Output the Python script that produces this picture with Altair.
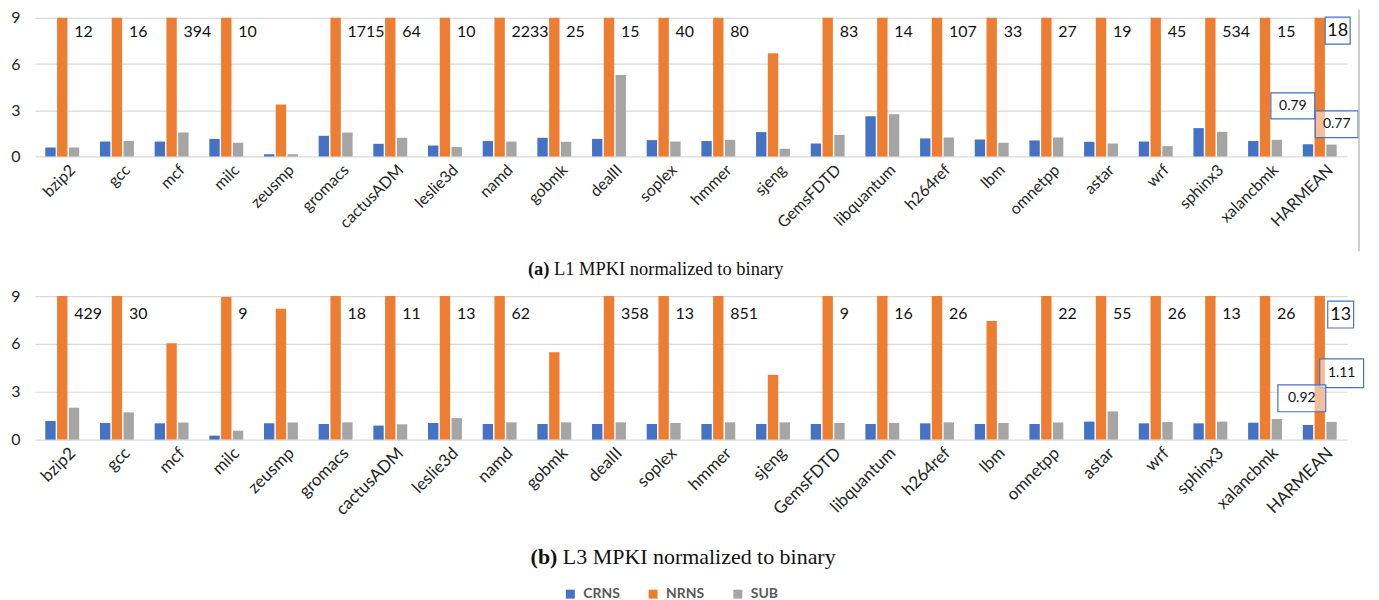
import altair as alt
import pandas as pd

benchmarks = ["bzip2", "gcc", "mcf", "milc", "zeusmp", "gromacs", "cactusADM", "leslie3d",
              "namd", "gobmk", "dealII", "soplex", "hmmer", "sjeng", "GemsFDTD", "libquantum",
              "h264ref", "lbm", "omnetpp", "astar", "wrf", "sphinx3", "xalancbmk", "HARMEAN"]
series = ["CRNS", "NRNS", "SUB"]
colors = ["#4472C4", "#ED7D31", "#A5A5A5"]

# (a) L1 MPKI normalized to binary
l1_crns = [0.58, 0.97, 0.97, 1.14, 0.15, 1.34, 0.82, 0.71, 1.00, 1.21, 1.14, 1.06,
           1.00, 1.58, 0.84, 2.61, 1.17, 1.10, 1.04, 0.95, 0.97, 1.84, 1.00, 0.79]
l1_nrns = [12, 16, 394, 10, 3.37, 1715, 64, 10, 2233, 25, 15, 40,
           80, 6.70, 83, 14, 107, 33, 27, 19, 45, 534, 15, 18]
l1_sub = [0.58, 1.00, 1.55, 0.89, 0.15, 1.55, 1.21, 0.62, 0.97, 0.95, 5.29, 0.97,
          1.08, 0.50, 1.40, 2.74, 1.23, 0.89, 1.23, 0.84, 0.67, 1.60, 1.08, 0.77]

# (b) L3 MPKI normalized to binary
l3_crns = [1.17, 1.04, 1.02, 0.25, 1.02, 0.98, 0.88, 1.04, 0.98, 0.98, 0.98, 0.98,
           0.98, 0.98, 0.98, 0.98, 1.02, 0.98, 0.98, 1.13, 1.02, 1.02, 1.06, 0.92]
l3_nrns = [429, 30, 6.04, 8.94, 8.20, 18, 11, 13, 62, 5.48, 358, 13,
           851, 4.06, 9, 16, 26, 7.44, 22, 55, 26, 13, 26, 13]
l3_sub = [2.00, 1.71, 1.08, 0.56, 1.08, 1.08, 0.96, 1.35, 1.08, 1.08, 1.08, 1.04,
          1.08, 1.08, 1.04, 1.04, 1.08, 1.04, 1.08, 1.77, 1.10, 1.13, 1.29, 1.11]

# HARMEAN call-out boxes: text, y position (data units), horizontal offset, box w, box h, font size
l1_callouts = [("18", 8.17, 18, 25, 27, 18), ("0.79", 3.28, -27, 44, 26, 14), ("0.77", 2.09, 17, 43, 27, 14)]
l3_callouts = [("13", 7.84, 21, 26, 27, 18), ("1.11", 4.16, 22, 44, 29, 14), ("0.92", 2.59, -18, 48, 27, 14)]

AX = 9.0
W = 1316


def long_df(crns, nrns, sub):
    rows = []
    for i, b in enumerate(benchmarks):
        for s, v in zip(series, (crns[i], nrns[i], sub[i])):
            rows.append({"benchmark": b, "series": s, "value": v, "shown": min(v, AX),
                         "label": str(int(round(v))) if (s == "NRNS" and v >= 8.9) else ""})
    return pd.DataFrame(rows)


legend = alt.Legend(orient="none", legendX=530, legendY=571, direction="horizontal", title=None,
                    symbolType="square", symbolSize=81, symbolStrokeWidth=0,
                    labelFont="Lato", labelFontWeight="bold", labelColor="#595959", labelFontSize=14,
                    columnPadding=26, labelOffset=6)


def panel(df, height, label_y, label_size, xlab_size, callouts, cap_bold, cap_rest, cap_x, cap_y, cap_size, border=False):
    xenc = alt.X("benchmark:N", sort=benchmarks, title=None,
                 scale=alt.Scale(paddingInner=0.38, paddingOuter=0.19),
                 axis=alt.Axis(labelAngle=-45, labelFont="Lato", labelFontSize=xlab_size, labelColor="#262626",
                               ticks=False, domain=False, labelPadding=5, labelOffset=5, labelOverlap=False))
    xoff = alt.XOffset("series:N", sort=series, scale=alt.Scale(paddingInner=0.12))
    yenc = alt.Y("shown:Q", title=None, scale=alt.Scale(domain=[0, AX], nice=False),
                 axis=alt.Axis(values=[0, 3, 6, 9], labelFont="Lato", labelFontSize=16, labelColor="#262626",
                               ticks=False, domain=False, gridColor="#D9D9D9", gridWidth=1.2, labelPadding=15))
    bars = alt.Chart(df).mark_bar().encode(
        x=xenc, xOffset=xoff, y=yenc,
        color=alt.Color("series:N", sort=series, scale=alt.Scale(domain=series, range=colors), legend=legend),
    )
    labels = alt.Chart(df).transform_filter("datum.label != '' && datum.benchmark != 'HARMEAN'").mark_text(
        align="left", baseline="middle", dx=12, font="Lato", fontSize=label_size, color="#111111"
    ).encode(x=alt.X("benchmark:N", sort=benchmarks), xOffset=xoff, y=alt.datum(label_y), text="label:N")
    layers = [bars, labels]
    for (txt, yv, ox, bw, bh, fs) in callouts:
        s = bw / 2.0
        x1 = (ox - bw / 2.0) / s
        x2 = (ox + bw / 2.0) / s
        r = (bh / 2.0) / s
        path = f"M{x1:.4f},{-r:.4f}L{x2:.4f},{-r:.4f}L{x2:.4f},{r:.4f}L{x1:.4f},{r:.4f}Z"
        cdf = pd.DataFrame({"benchmark": ["HARMEAN"], "y": [yv], "t": [txt]})
        box = alt.Chart(cdf).mark_point(shape=path, size=bw * bw, filled=True, fill="white", fillOpacity=0.5,
                                        stroke="#4472C4", strokeWidth=1.2, strokeOpacity=1, opacity=1).encode(
            x=alt.X("benchmark:N", sort=benchmarks), y=alt.Y("y:Q"))
        tx = alt.Chart(cdf).mark_text(align="center", baseline="middle", dx=ox, font="Lato", fontSize=fs,
                                      color="#111111").encode(
            x=alt.X("benchmark:N", sort=benchmarks), y=alt.Y("y:Q"), text="t:N")
        layers += [box, tx]
    cap1 = alt.Chart(pd.DataFrame({"t": [cap_bold]})).mark_text(
        align="right", baseline="middle", font="Liberation Serif", fontWeight="bold", fontSize=cap_size,
        color="#111111").encode(x=alt.value(cap_x), y=alt.value(cap_y), text="t:N")
    cap2 = alt.Chart(pd.DataFrame({"t": [cap_rest]})).mark_text(
        align="left", baseline="middle", font="Liberation Serif", fontSize=cap_size,
        color="#111111", dx=cap_size * 0.25).encode(x=alt.value(cap_x), y=alt.value(cap_y), text="t:N")
    layers += [cap1, cap2]
    if border:
        rule = alt.Chart(pd.DataFrame({"a": [0]})).mark_rule(color="#BFBFBF", strokeWidth=1.5).encode(
            x=alt.value(1328), y=alt.value(-8), y2=alt.value(234))
        layers.append(rule)
    return alt.layer(*layers).properties(width=W, height=height)


top = panel(long_df(l1_crns, l1_nrns, l1_sub), 139, 8.1, 16, 16, l1_callouts,
            "(a)", "L1 MPKI normalized to binary", 516, 252, 18.5, border=True)
bottom = panel(long_df(l3_crns, l3_nrns, l3_sub), 144, 7.9, 16, 17, l3_callouts,
               "(b)", "L3 MPKI normalized to binary", 524, 262, 22)

chart = alt.vconcat(top, bottom, spacing=9).properties(
    padding={"left": 2, "top": 0, "right": 5, "bottom": 5}
).configure_view(stroke=None).resolve_scale(color="shared")

chart.save("out.html", embed_options={"renderer": "svg", "actions": False})
